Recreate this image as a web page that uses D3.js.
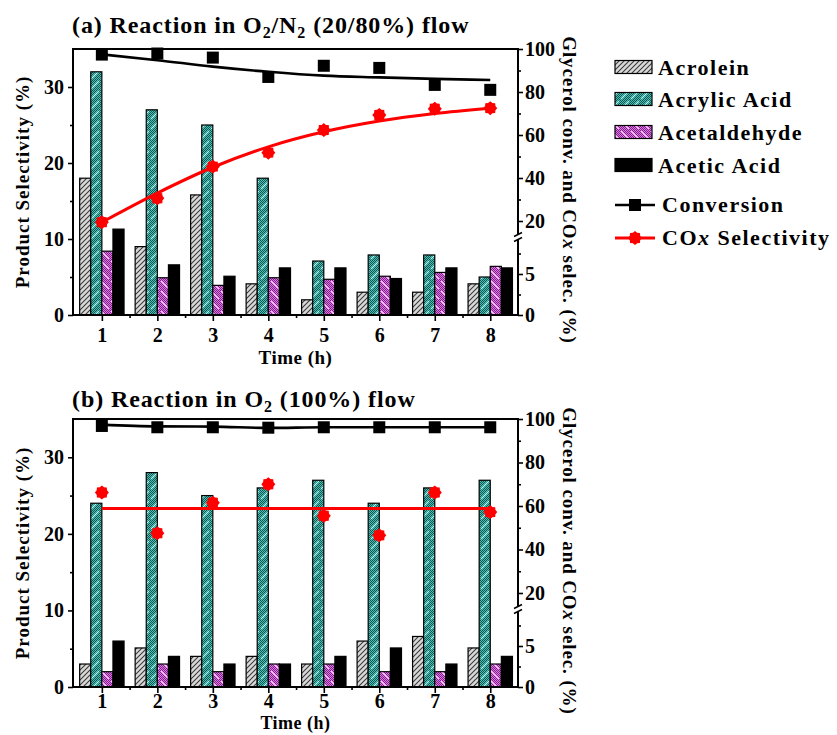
<!DOCTYPE html>
<html>
<head>
<meta charset="utf-8">
<script src="https://cdn.jsdelivr.net/npm/d3@7"></script>
<style>
  body { margin: 0; background: #fff; }
  svg text { font-family: "Liberation Serif", "Times New Roman", serif; font-weight: bold; fill: #000; }
</style>
</head>
<body>
<svg id="chart" width="837" height="735"></svg>
<script>
// ---- data ----
const hours = [1, 2, 3, 4, 5, 6, 7, 8];
const productNames = ["Acrolein", "Acrylic Acid", "Acetaldehyde", "Acetic Acid"];

// (a) O2/N2 (20/80%) flow — product selectivity (%)
const acroleinA     = [18, 9, 15.8, 4.1, 2, 3, 3, 4.1];
const acrylicA      = [32, 27, 25, 18, 7.1, 7.9, 7.9, 5];
const acetaldehydeA = [8.4, 4.9, 3.9, 4.9, 4.7, 5.1, 5.6, 6.4];
const aceticA       = [11.3, 6.6, 5.1, 6.2, 6.2, 4.8, 6.2, 6.2];
// glycerol conversion and COx selectivity (%)
const conversionA    = [97.4, 97.9, 96, 87, 92.2, 91.2, 83.3, 81];
const conversionFitA = [97.5, 94.8, 91.8, 89.4, 87.6, 86.8, 86.1, 85.6];
const coxA           = [19, 30.6, 45.3, 51.8, 62.3, 69.3, 72.2, 72.5];
const coxFitA        = [19, 33, 45, 54.5, 61.5, 66.5, 70, 72.5];

// (b) O2 (100%) flow
const acroleinB     = [3, 5.1, 4, 4, 3, 6, 6.6, 5.1];
const acrylicB      = [24, 28, 25, 26, 27, 24, 26, 27];
const acetaldehydeB = [2, 3, 2, 3, 3, 2, 2, 3];
const aceticB       = [6, 4, 3, 3, 4, 5.1, 3, 4];
const conversionB    = [96.8, 96.2, 96.2, 96, 96.2, 96.2, 96.2, 96.2];
const conversionFitB = [97.4, 96.6, 96.5, 95.9, 96.2, 96.2, 96.2, 96.2];
const coxB           = [66.2, 47.5, 61.5, 70, 55.5, 46.5, 66.2, 57.2];
const coxFitB        = [58.8, 58.8, 58.8, 58.8, 58.8, 58.8, 58.8, 58.8];

// axis ticks
const leftTicks = [0, 10, 20, 30];
const leftMinor = [5, 15, 25];
const rightTicks = [0, 5, 20, 40, 60, 80, 100];
const rightMinor = [2.5, 7.5, 30, 50, 70, 90];
const xMinor = [1.5, 2.5, 3.5, 4.5, 5.5, 6.5, 7.5];

// ---- layout ----
const svg = d3.select("#chart");
const plotLeft = 73, plotRight = 518;
const x = d3.scaleLinear().domain([0.48, 8.5]).range([plotLeft, plotRight]);
const barW = x(1.2) - x(1);

// ---- fill patterns ----
const defs = svg.append("defs");
function hatch(id, base, line, size, width) {
  const p = defs.append("pattern").attr("id", id)
    .attr("patternUnits", "userSpaceOnUse").attr("width", size).attr("height", size);
  p.append("rect").attr("width", size).attr("height", size).attr("fill", base);
  p.append("path")
    .attr("d", `M0,${size}L${size},0M${-size / 2},${size / 2}L${size / 2},${-size / 2}M${size / 2},${size * 1.5}L${size * 1.5},${size / 2}`)
    .attr("stroke", line).attr("stroke-width", width);
}
function textured(id, base, dot, stripe, forward) {
  const s = 10;
  const p = defs.append("pattern").attr("id", id)
    .attr("patternUnits", "userSpaceOnUse").attr("width", s).attr("height", s);
  p.append("rect").attr("width", s).attr("height", s).attr("fill", base);
  const cells = d3.cross(d3.range(s), d3.range(s)).filter(([i, j]) => (i + j) % 2 === 0);
  p.selectAll("rect.dot").data(cells).join("rect").attr("class", "dot")
    .attr("x", d => d[0]).attr("y", d => d[1]).attr("width", 1).attr("height", 1).attr("fill", dot);
  p.append("path")
    .attr("d", forward ? `M1,${s - 1}L${s - 1},1` : `M1,1L${s - 1},${s - 1}`)
    .attr("stroke", stripe).attr("stroke-width", 1.1);
}
hatch("fill-acrolein", "#d9d9d9", "#3a3a3a", 5, 1.1);
textured("fill-acrylic", "#46c2b6", "#16524f", "#a8fff8", true);
textured("fill-acetaldehyde", "#e274ea", "#7b2483", "#ffd0ff", false);
const fills = ["url(#fill-acrolein)", "url(#fill-acrylic)", "url(#fill-acetaldehyde)", "#000"];

// 8-lobed marker used for COx selectivity
function gearPath(ro, ri, n) {
  const pts = d3.range(2 * n).map(k => {
    const r = k % 2 ? ri : ro, a = Math.PI * k / n;
    return [r * Math.sin(a), -r * Math.cos(a)];
  });
  return "M" + pts.join("L") + "Z";
}
const redMarker = gearPath(7, 5.6, 8);

// ---- panel drawing ----
function drawPanel(cfg) {
  const g = svg.append("g");
  const top = cfg.top, bottom = cfg.bottom;
  const yL = d3.scaleLinear().domain([0, 35]).range([bottom, top]);
  const yR = d3.scaleLinear().domain([0, 10, 20, 100])
    .range([bottom, bottom - 82, bottom - 94, top]);

  // title with subscripts
  const t = g.append("text").attr("x", 72).attr("y", cfg.titleY)
    .style("font-size", "24px").style("letter-spacing", "0.9px");
  let inSub = false;
  cfg.title.forEach(([s, sub]) => {
    const dy = sub ? (inSub ? 0 : 5) : (inSub ? -5 : 0);
    const ts = t.append("tspan").attr("dy", dy).text(s);
    if (sub) ts.style("font-size", "16px");
    inSub = !!sub;
  });

  // bars
  const series = [cfg.acrolein, cfg.acrylic, cfg.acetaldehyde, cfg.acetic];
  series.forEach((vals, i) => {
    g.append("g").selectAll("rect").data(hours).join("rect")
      .attr("x", (h) => x(h) + (i - 2) * barW)
      .attr("y", (h, k) => yL(vals[k]))
      .attr("width", barW)
      .attr("height", (h, k) => yL(0) - yL(vals[k]))
      .attr("fill", fills[i])
      .attr("stroke", "#000").attr("stroke-width", 1.2);
  });

  // axes
  const axisStyle = sel => {
    sel.select(".domain").remove();
    sel.selectAll("line").attr("stroke", "#000").attr("stroke-width", 1.6);
    sel.selectAll("text").style("font-size", "20px");
  };
  g.append("g").attr("transform", `translate(${plotLeft},0)`)
    .call(d3.axisLeft(yL).tickValues(leftTicks).tickSize(5).tickPadding(4).tickFormat(d3.format("d")))
    .call(axisStyle);
  g.append("g").attr("transform", `translate(${plotLeft},0)`)
    .call(d3.axisLeft(yL).tickValues(leftMinor).tickSize(3).tickFormat(""))
    .call(axisStyle);
  g.append("g").attr("transform", `translate(${plotRight},0)`)
    .call(d3.axisRight(yR).tickValues(rightTicks).tickSize(5).tickPadding(2).tickFormat(d3.format("d")))
    .call(axisStyle);
  g.append("g").attr("transform", `translate(${plotRight},0)`)
    .call(d3.axisRight(yR).tickValues(rightMinor).tickSize(3).tickFormat(""))
    .call(axisStyle);
  g.append("g").attr("transform", `translate(0,${bottom})`)
    .call(d3.axisBottom(x).tickValues(hours).tickSize(6).tickPadding(cfg.tickPad).tickFormat(d3.format("d")))
    .call(axisStyle);
  g.append("g").attr("transform", `translate(0,${bottom})`)
    .call(d3.axisBottom(x).tickValues(xMinor).tickSize(3).tickFormat(""))
    .call(axisStyle);

  // frame
  g.append("rect").attr("x", plotLeft).attr("y", top)
    .attr("width", plotRight - plotLeft).attr("height", bottom - top)
    .attr("fill", "none").attr("stroke", "#000").attr("stroke-width", 2);

  // axis break on the right scale
  const by = bottom - 78;
  g.append("rect").attr("x", plotRight - 3).attr("y", by - 2.5).attr("width", 6).attr("height", 5).attr("fill", "#fff");
  g.append("path")
    .attr("d", `M${plotRight - 4},${by - 0.5}L${plotRight + 4},${by - 4.5}M${plotRight - 4},${by + 4.5}L${plotRight + 4},${by + 0.5}`)
    .attr("stroke", "#000").attr("stroke-width", 1.4).attr("fill", "none");

  // conversion and COx curves
  const line = vals => d3.line().x((h) => x(h)).y((h, k) => yR(vals[k])).curve(d3.curveMonotoneX)(hours);
  g.append("path").attr("d", line(cfg.convFit)).attr("fill", "none").attr("stroke", "#000").attr("stroke-width", 2.6);
  g.append("path").attr("d", line(cfg.coxFit)).attr("fill", "none").attr("stroke", "#ff0000").attr("stroke-width", 3);

  g.append("g").selectAll("rect").data(hours).join("rect")
    .attr("x", h => x(h) - 6).attr("y", (h, k) => yR(cfg.conv[k]) - 6)
    .attr("width", 12).attr("height", 12).attr("fill", "#000");
  g.append("g").selectAll("path").data(hours).join("path")
    .attr("d", redMarker)
    .attr("transform", (h, k) => `translate(${x(h)},${yR(cfg.cox[k])})`)
    .attr("fill", "#ff0000");

  // axis titles
  g.append("text").attr("transform", `translate(29,${(top + bottom) / 2}) rotate(-90)`)
    .attr("text-anchor", "middle").style("font-size", "19px").style("letter-spacing", "1px")
    .text("Product Selectivity (%)");
  const rt = g.append("text").attr("transform", `translate(563,${cfg.rightTitleY}) rotate(90)`)
    .attr("text-anchor", "middle").style("font-size", "19px").style("letter-spacing", "0.9px");
  rt.append("tspan").text("Glycerol conv. and CO");
  rt.append("tspan").style("font-style", "italic").text("x");
  rt.append("tspan").text(" selec. (%)");
  g.append("text").attr("x", (plotLeft + plotRight) / 2).attr("y", bottom + cfg.xTitleDy)
    .attr("text-anchor", "middle").style("font-size", cfg.xTitleSize).style("letter-spacing", "0.5px")
    .text("Time (h)");
}

drawPanel({
  top: 49, bottom: 315, titleY: 33, tickPad: 7, xTitleDy: 49, xTitleSize: "19px", rightTitleY: 190,
  title: [["(a) Reaction in O"], ["2", true], ["/N"], ["2", true], [" (20/80%) flow"]],
  acrolein: acroleinA, acrylic: acrylicA, acetaldehyde: acetaldehydeA, acetic: aceticA,
  conv: conversionA, convFit: conversionFitA, cox: coxA, coxFit: coxFitA
});
drawPanel({
  top: 419, bottom: 687, titleY: 407, tickPad: 1, xTitleDy: 42, xTitleSize: "18px", rightTitleY: 561,
  title: [["(b) Reaction in O"], ["2", true], [" (100%) flow"]],
  acrolein: acroleinB, acrylic: acrylicB, acetaldehyde: acetaldehydeB, acetic: aceticB,
  conv: conversionB, convFit: conversionFitB, cox: coxB, coxFit: coxFitB
});

// ---- legend ----
const legend = svg.append("g").style("font-size", "22px");
const boxRows = [67, 99, 132, 165];
productNames.forEach((name, i) => {
  legend.append("rect").attr("x", 615).attr("y", boxRows[i] - 6.5).attr("width", 37).attr("height", 13)
    .attr("fill", fills[i]).attr("stroke", "#000").attr("stroke-width", 1.2);
  legend.append("text").attr("x", 658).attr("y", boxRows[i] + 7.5)
    .style("letter-spacing", "1.5px").text(name);
});
legend.append("line").attr("x1", 615).attr("x2", 655).attr("y1", 205).attr("y2", 205)
  .attr("stroke", "#000").attr("stroke-width", 2.6);
legend.append("rect").attr("x", 629).attr("y", 199).attr("width", 12).attr("height", 12).attr("fill", "#000");
legend.append("text").attr("x", 662).attr("y", 212).style("letter-spacing", "1.5px").text("Conversion");
legend.append("line").attr("x1", 615).attr("x2", 655).attr("y1", 238).attr("y2", 238)
  .attr("stroke", "#ff0000").attr("stroke-width", 3);
legend.append("path").attr("d", redMarker).attr("transform", "translate(635,238)").attr("fill", "#ff0000");
const coxLabel = legend.append("text").attr("x", 662).attr("y", 245).style("letter-spacing", "1.5px");
coxLabel.append("tspan").text("CO");
coxLabel.append("tspan").style("font-style", "italic").text("x");
coxLabel.append("tspan").text(" Selectivity");
</script>
</body>
</html>
